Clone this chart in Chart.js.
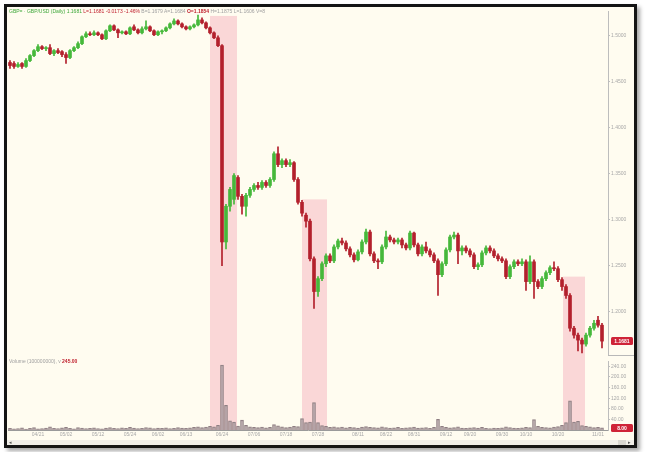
<!DOCTYPE html>
<html><head><meta charset="utf-8">
<script src="https://cdn.jsdelivr.net/npm/chart.js@4.4.1/dist/chart.umd.min.js"></script>
<style>
html,body{margin:0;padding:0;background:#fff;width:649px;height:452px;overflow:hidden;font-family:"Liberation Sans",Arial,sans-serif}
#frame{position:absolute;left:4px;top:4px;width:627px;height:438px;border:3px solid #141414;background:#fffcf0;box-shadow:3px 3px 4px rgba(0,0,0,0.35)}
canvas{position:absolute}
#price{left:7px;top:7px}
#vol{left:7px;top:357px}
.t{position:absolute;font-size:5px;line-height:6px;white-space:nowrap}
#ttl{left:9px;top:8px}
#vttl{left:9px;top:358px;color:#a0a0a0}
#scroll{position:absolute;left:7px;top:440px;width:627px;height:5px;background:#f0eee8;font-size:5px;line-height:5px;color:#555}
</style></head><body>
<div id="frame"></div>
<canvas id="price" width="627" height="352"></canvas>
<canvas id="vol" width="627" height="83"></canvas>
<div id="ttl" class="t"></div>
<div id="vttl" class="t"></div>
<div id="scroll"><span style="position:absolute;left:2px">◂</span><span style="position:absolute;left:611px;width:8px;height:5px;background:#d8d6d0"></span><span style="position:absolute;left:621px">▸</span></div>
<script>
// ---- data ----
const opens = [1.4710,1.4699,1.4667,1.4699,1.4667,1.4731,1.4785,1.4839,1.4882,1.4861,
1.4871,1.4807,1.4839,1.4828,1.4796,1.4764,1.4839,1.4871,1.4915,1.4990,
1.5022,1.5012,1.5033,1.5012,1.4968,1.5055,1.5109,1.5065,1.5033,1.5044,
1.5022,1.5098,1.5065,1.5033,1.5076,1.5098,1.5055,1.5012,1.5044,1.5055,
1.5087,1.5130,1.5162,1.5130,1.5098,1.5076,1.5098,1.5119,1.5173,1.5141,
1.5087,1.5033,1.4979,1.4893,1.2759,1.3147,1.3222,1.3460,1.3255,1.3147,
1.3266,1.3330,1.3373,1.3352,1.3406,1.3373,1.3438,1.3718,1.3600,1.3643,
1.3600,1.3621,1.3438,1.3190,1.3050,1.2985,1.2576,1.2220,1.2360,1.2522,
1.2608,1.2554,1.2705,1.2770,1.2748,1.2684,1.2619,1.2565,1.2651,1.2759,
1.2867,1.2630,1.2554,1.2543,1.2705,1.2813,1.2781,1.2759,1.2781,1.2727,
1.2694,1.2856,1.2727,1.2630,1.2705,1.2662,1.2619,1.2554,1.2403,1.2522,
1.2673,1.2813,1.2834,1.2662,1.2694,1.2662,1.2619,1.2490,1.2511,1.2640,
1.2694,1.2662,1.2608,1.2576,1.2554,1.2382,1.2490,1.2543,1.2522,1.2543,
1.2328,1.2543,1.2328,1.2274,1.2360,1.2425,1.2479,1.2468,1.2349,1.2274,
1.2177,1.1821,1.1746,1.1692,1.1649,1.1746,1.1821,1.1908,1.1854];
const highs = [1.4731,1.4720,1.4710,1.4710,1.4753,1.4796,1.4850,1.4904,1.4893,1.4882,
1.4904,1.4850,1.4861,1.4839,1.4818,1.4850,1.4882,1.4936,1.5001,1.5044,
1.5044,1.5055,1.5044,1.5022,1.5065,1.5119,1.5119,1.5076,1.5055,1.5055,
1.5098,1.5119,1.5076,1.5098,1.5162,1.5109,1.5065,1.5055,1.5065,1.5098,
1.5141,1.5184,1.5173,1.5141,1.5109,1.5109,1.5130,1.5227,1.5195,1.5152,
1.5098,1.5044,1.5001,1.4904,1.3169,1.3352,1.3503,1.3481,1.3276,1.3287,
1.3352,1.3395,1.3406,1.3427,1.3427,1.3460,1.3740,1.3794,1.3664,1.3664,
1.3654,1.3632,1.3460,1.3212,1.3072,1.3007,1.2597,1.2382,1.2543,1.2630,
1.2630,1.2727,1.2791,1.2802,1.2770,1.2705,1.2640,1.2673,1.2781,1.2899,
1.2888,1.2651,1.2576,1.2727,1.2878,1.2834,1.2802,1.2802,1.2802,1.2748,
1.2878,1.2867,1.2748,1.2727,1.2759,1.2684,1.2640,1.2576,1.2543,1.2694,
1.2834,1.2867,1.2856,1.2716,1.2716,1.2684,1.2640,1.2533,1.2662,1.2716,
1.2716,1.2684,1.2630,1.2597,1.2576,1.2511,1.2565,1.2565,1.2576,1.2565,
1.2608,1.2565,1.2349,1.2382,1.2446,1.2500,1.2543,1.2490,1.2371,1.2296,
1.2199,1.1843,1.1767,1.1714,1.1767,1.1843,1.1908,1.1951,1.1875];
const lows = [1.4645,1.4645,1.4656,1.4645,1.4656,1.4720,1.4774,1.4828,1.4850,1.4839,
1.4796,1.4785,1.4807,1.4774,1.4699,1.4753,1.4828,1.4861,1.4904,1.4979,
1.5001,1.5001,1.5001,1.4958,1.4958,1.5044,1.5055,1.4979,1.5022,1.5012,
1.5012,1.5055,1.5022,1.5022,1.5065,1.5044,1.5001,1.5001,1.5022,1.5044,
1.5076,1.5119,1.5119,1.5087,1.5065,1.5065,1.5087,1.5109,1.5130,1.5076,
1.5022,1.4968,1.4882,1.2500,1.2684,1.3093,1.3169,1.3222,1.3061,1.3039,
1.3244,1.3309,1.3330,1.3330,1.3352,1.3352,1.3416,1.3578,1.3567,1.3578,
1.3578,1.3416,1.3169,1.3039,1.2921,1.2554,1.2037,1.2166,1.2339,1.2490,
1.2533,1.2533,1.2684,1.2727,1.2662,1.2597,1.2543,1.2554,1.2630,1.2737,
1.2608,1.2533,1.2468,1.2522,1.2684,1.2759,1.2737,1.2737,1.2694,1.2673,
1.2673,1.2705,1.2608,1.2608,1.2640,1.2597,1.2533,1.2177,1.2382,1.2500,
1.2651,1.2791,1.2522,1.2619,1.2640,1.2597,1.2468,1.2457,1.2490,1.2619,
1.2640,1.2587,1.2554,1.2533,1.2360,1.2360,1.2468,1.2500,1.2500,1.2231,
1.2306,1.2145,1.2252,1.2252,1.2339,1.2403,1.2446,1.2328,1.2231,1.2145,
1.1789,1.1714,1.1573,1.1552,1.1627,1.1724,1.1800,1.1832,1.1606];
const closes = [1.4677,1.4667,1.4688,1.4667,1.4731,1.4785,1.4839,1.4882,1.4861,1.4871,
1.4807,1.4839,1.4818,1.4796,1.4764,1.4839,1.4871,1.4915,1.4990,1.5022,
1.5012,1.5033,1.5012,1.4968,1.5055,1.5109,1.5065,1.5033,1.5044,1.5022,
1.5087,1.5065,1.5033,1.5076,1.5098,1.5055,1.5012,1.5044,1.5055,1.5087,
1.5130,1.5162,1.5130,1.5098,1.5076,1.5098,1.5119,1.5173,1.5141,1.5087,
1.5033,1.4979,1.4893,1.2759,1.3147,1.3330,1.3481,1.3255,1.3147,1.3266,
1.3330,1.3373,1.3352,1.3406,1.3373,1.3438,1.3718,1.3600,1.3643,1.3600,
1.3621,1.3438,1.3190,1.3072,1.2985,1.2576,1.2220,1.2360,1.2522,1.2608,
1.2554,1.2705,1.2770,1.2748,1.2684,1.2619,1.2565,1.2651,1.2759,1.2867,
1.2630,1.2554,1.2543,1.2705,1.2813,1.2781,1.2759,1.2781,1.2727,1.2694,
1.2856,1.2727,1.2630,1.2705,1.2662,1.2619,1.2554,1.2403,1.2522,1.2673,
1.2813,1.2834,1.2662,1.2694,1.2662,1.2619,1.2490,1.2511,1.2640,1.2694,
1.2662,1.2608,1.2576,1.2554,1.2382,1.2490,1.2543,1.2522,1.2543,1.2328,
1.2543,1.2328,1.2274,1.2360,1.2425,1.2479,1.2468,1.2349,1.2274,1.2177,
1.1821,1.1746,1.1692,1.1649,1.1746,1.1821,1.1875,1.1854,1.1681];
const volumes = [6,4,5,8,3,6,9,4,5,7,12,6,5,8,10,6,4,9,7,5,
6,8,5,4,7,9,6,5,8,6,10,7,5,6,9,8,5,7,6,8,
5,6,9,7,6,8,10,12,9,11,14,12,18,245,93,35,30,15,37,18,
12,10,9,11,8,10,20,16,12,9,11,14,13,43,28,30,103,28,17,14,
10,12,9,11,8,10,9,7,11,13,10,9,8,12,9,7,8,10,6,8,
9,11,7,8,9,6,10,40,14,10,8,9,12,7,6,8,9,7,10,6,
5,7,6,8,12,9,7,6,8,10,9,39,14,10,9,8,11,13,18,28,
110,30,33,17,14,12,9,10,8];
const slotCount = 150;                       // candle slots on the time axis
const tickPos    = [7,14,22,30,37,44,53,61,69,77,87,94,101,109,115,123,129,137,147];
const tickLabels = ['04/21','05/02','05/12','05/24','06/02','06/13','06/24','07/06','07/18','07/28',
                    '08/11','08/22','08/31','09/12','09/20','09/30','10/10','10/20','11/01'];
const priceTicks = [1.20,1.25,1.30,1.35,1.40,1.45,1.50];
const volTicks   = [40,80,120,160,200,240];
const shadeStart = [50, 73, 138.25];
const shadeEnd   = [56.75, 79.25, 143.75];
const shadeTop   = [1.5216, 1.3222, 1.2382];

// ---- drawing ----
const UP = '#46b83a', DOWN = '#b3202c';
const slots = Array.from({length: slotCount}, (_, i) => i);
const cols = closes.map((c, i) => c >= opens[i] ? UP : DOWN);
const FONT = {family:'"Liberation Sans", Arial, sans-serif', size:5};

const shadePlugin = {
  id:'shade',
  beforeDatasetsDraw(chart, args, opts){
    const {ctx, chartArea:a, scales:{x, y}} = chart;
    ctx.save();
    ctx.fillStyle = 'rgba(245,170,185,0.45)';
    shadeStart.forEach((s, k) => {
      const x0 = x.getPixelForValue(s), x1 = x.getPixelForValue(shadeEnd[k]);
      const y0 = opts.full ? 2 : y.getPixelForValue(shadeTop[k]);
      const y1 = opts.full ? a.bottom : chart.height;
      ctx.fillRect(x0, y0, x1 - x0, y1 - y0);
    });
    ctx.restore();
  }
};
const tagPlugin = {
  id:'tag',
  afterDraw(chart, args, opts){
    const {ctx, chartArea:a, scales:{y}} = chart;
    const v = opts.value, py = y.getPixelForValue(v);
    ctx.save();
    if (opts.sep){
      ctx.strokeStyle = '#b8b8b8'; ctx.lineWidth = 1;
      ctx.beginPath(); ctx.moveTo(a.right, a.bottom + 0.5); ctx.lineTo(chart.width, a.bottom + 0.5); ctx.stroke();
    }
    ctx.fillStyle = '#cf2438';
    ctx.beginPath(); ctx.roundRect(a.right + 3, py - 4, 22, 8, 1.5); ctx.fill();
    ctx.fillStyle = '#fff'; ctx.font = 'bold 5px "Liberation Sans", Arial, sans-serif';
    ctx.textAlign = 'center'; ctx.textBaseline = 'middle';
    ctx.fillText(opts.text, a.right + 14, py + 0.5);
    ctx.restore();
  }
};

const last = closes.length - 1;
new Chart(document.getElementById('price'), {
  type:'bar',
  data:{labels:slots, datasets:[
    {data:opens.map((o, i) => [o, closes[i]]), backgroundColor:cols, barThickness:3, grouped:false, minBarLength:1},
    {data:lows.map((l, i) => [l, highs[i]]), backgroundColor:cols, barThickness:1, grouped:false}
  ]},
  options:{
    responsive:false, animation:false, events:[],
    layout:{padding:{left:1, top:3, bottom:2, right:0}},
    plugins:{legend:{display:false}, tooltip:{enabled:false},
      shade:{full:false},
      tag:{value:closes[last], text:closes[last].toFixed(4), sep:true}},
    scales:{
      x:{display:false, offset:true},
      y:{position:'right', min:1.153, max:1.527,
        afterFit(s){ s.width = 26; },
        afterBuildTicks(s){ s.ticks = priceTicks.map(v => ({value:v})); },
        ticks:{font:FONT, color:'#a8a8a8', padding:1, callback:v => Number(v).toFixed(4)},
        grid:{drawOnChartArea:false, tickLength:2, color:'#c0c0c0'},
        border:{color:'#bdbdbd'}}
    }
  },
  plugins:[shadePlugin, tagPlugin]
});

new Chart(document.getElementById('vol'), {
  type:'bar',
  data:{labels:slots, datasets:[
    {data:volumes, backgroundColor:'rgba(205,190,192,0.55)', borderColor:'#8e7e82', borderWidth:1, barThickness:3}
  ]},
  options:{
    responsive:false, animation:false, events:[],
    layout:{padding:{left:1, top:3, bottom:2, right:0}},
    plugins:{legend:{display:false}, tooltip:{enabled:false},
      shade:{full:true},
      tag:{value:volumes[volumes.length - 1], text:String(volumes[volumes.length - 1]) + '.00', sep:false}},
    scales:{
      x:{offset:true, grid:{display:false, drawTicks:false, tickLength:0}, border:{color:'#9a9a9a'},
        afterFit(s){ s.height = 8; s.paddingLeft = 0; s.paddingRight = 0; },
        afterBuildTicks(s){ s.ticks = tickPos.map(v => ({value:v})); },
        ticks:{autoSkip:false, maxRotation:0, minRotation:0, font:FONT, color:'#a8a8a8', padding:2,
          callback:v => tickLabels[tickPos.indexOf(v)]}},
      y:{position:'right', min:0, max:260,
        afterFit(s){ s.width = 26; },
        afterBuildTicks(s){ s.ticks = volTicks.map(v => ({value:v})); },
        ticks:{font:FONT, color:'#a8a8a8', padding:1, callback:v => Number(v).toFixed(2)},
        grid:{drawOnChartArea:false, tickLength:2, color:'#c0c0c0'},
        border:{color:'#bdbdbd'}}
    }
  },
  plugins:[shadePlugin, tagPlugin]
});

// header texts
const prev = closes[last - 1], chg = closes[last] - prev;
document.getElementById('ttl').innerHTML =
  '<span style="color:#3ea83a">GBP= · GBP/USD (Daily) ' + closes[last].toFixed(4) + '</span> ' +
  '<span style="color:#c0202e">L=' + closes[last].toFixed(4) + ' ' + chg.toFixed(4) + ' ' + (chg / prev * 100).toFixed(2) + '%</span> ' +
  '<span style="color:#a0a0a0">B=' + (closes[last] - 0.0002).toFixed(4) + ' A=' + (closes[last] + 0.0003).toFixed(4) + ' </span>' +
  '<span style="color:#c0202e;font-weight:bold">O=' + opens[last].toFixed(4) + '</span> ' +
  '<span style="color:#a0a0a0">H=' + highs[last].toFixed(4) + ' L=' + lows[last].toFixed(4) + ' V=' + volumes[last] + '</span>';
const vmax = Math.max(...volumes);
document.getElementById('vttl').innerHTML =
  'Volume (100000000), v <span style="color:#c0202e;font-weight:bold">' + vmax.toFixed(2) + '</span>';
</script>
</body></html>
